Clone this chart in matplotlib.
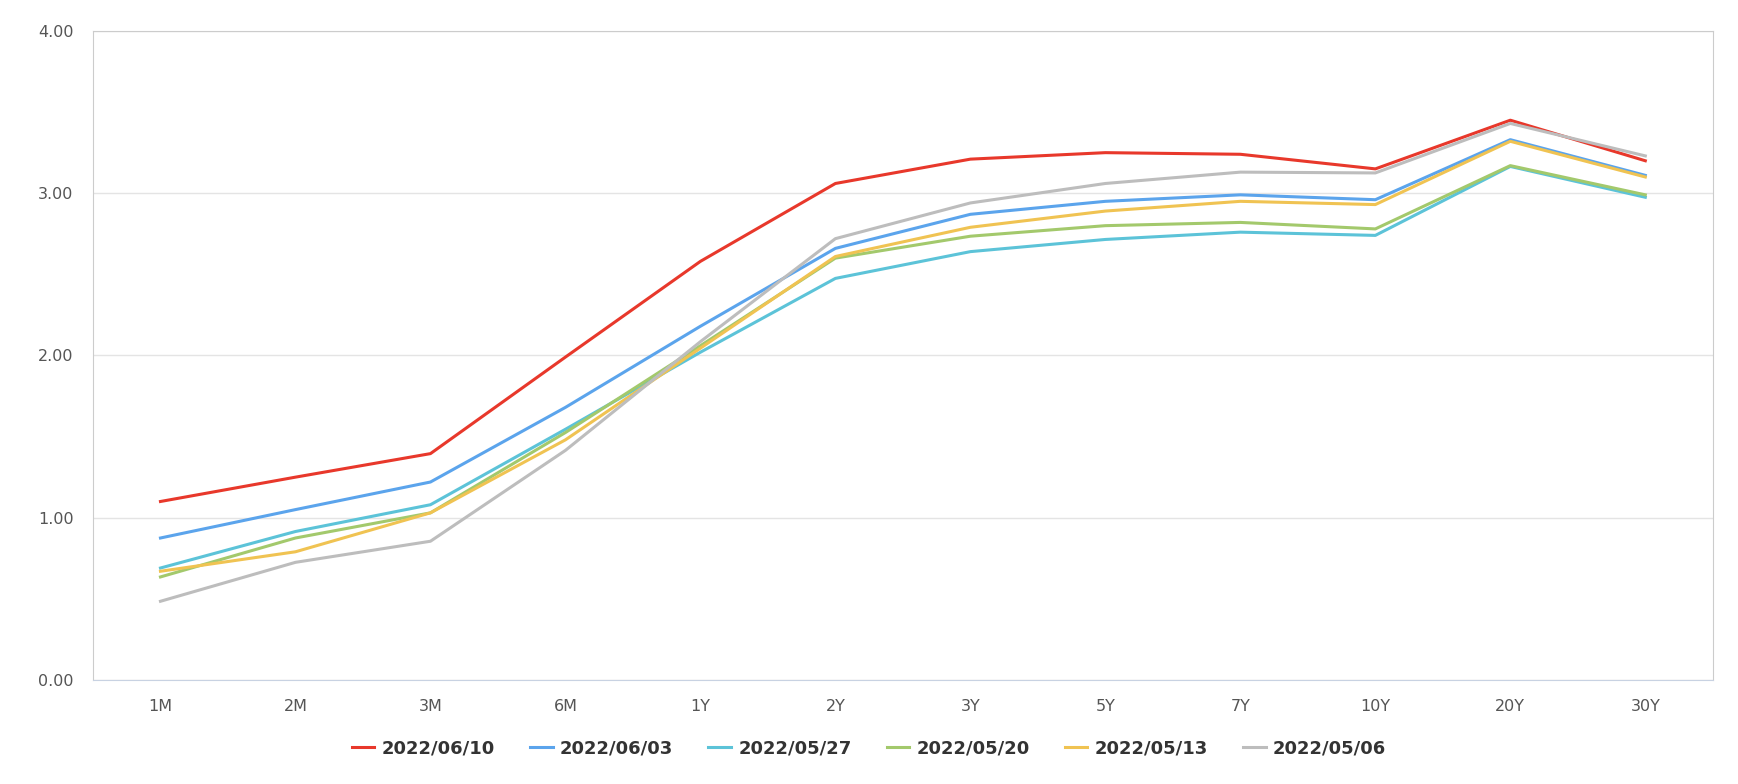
import matplotlib.pyplot as plt
import numpy as np

tenors = ["1M", "2M", "3M", "6M", "1Y", "2Y", "3Y", "5Y", "7Y", "10Y", "20Y", "30Y"]

d20220610 = [1.10, 1.25, 1.395, 1.99, 2.58, 3.06, 3.21, 3.25, 3.24, 3.15, 3.45, 3.20]
d20220603 = [0.875, 1.05, 1.22, 1.68, 2.18, 2.66, 2.87, 2.95, 2.99, 2.96, 3.33, 3.11]
d20220527 = [0.69, 0.915, 1.08, 1.545, 2.02, 2.475, 2.64, 2.715, 2.76, 2.74, 3.165, 2.975]
d20220520 = [0.635, 0.875, 1.03, 1.525, 2.06, 2.60, 2.735, 2.80, 2.82, 2.78, 3.17, 2.99]
d20220513 = [0.67, 0.79, 1.03, 1.48, 2.045, 2.61, 2.79, 2.89, 2.95, 2.93, 3.32, 3.10]
d20220506 = [0.485, 0.725, 0.855, 1.415, 2.085, 2.72, 2.94, 3.06, 3.13, 3.125, 3.43, 3.23]

labels = ["2022/06/10", "2022/06/03", "2022/05/27", "2022/05/20", "2022/05/13", "2022/05/06"]
colors = ["#e8382b", "#5ba4ec", "#5cc3d8", "#a3c96c", "#f0c352", "#bdbdbd"]
series = [d20220610, d20220603, d20220527, d20220520, d20220513, d20220506]

fig = plt.figure(figsize=(17.38, 7.84), dpi=100)
ax = fig.add_axes([0.0535, 0.1327, 0.932, 0.8278])

x = np.arange(len(tenors))
for values, label, color in zip(series, labels, colors):
    ax.plot(x, values, color=color, linewidth=2.2, label=label)

ax.set_xlim(-0.5, len(tenors) - 0.5)
ax.set_ylim(0, 4)
ax.set_yticks(np.arange(0, 4.01, 1.0))
ax.set_yticklabels([f"{v:.2f}" for v in np.arange(0, 4.01, 1.0)])
ax.set_xticks(x, tenors)
ax.grid(True, axis="y", color="#e4e4e4", linewidth=1.0)
ax.set_axisbelow(True)
ax.tick_params(axis="both", length=0, labelsize=11.5, labelcolor="#555555")
ax.tick_params(axis="y", pad=14)
ax.tick_params(axis="x", pad=14)
for side in ("left", "top", "right"):
    ax.spines[side].set_color("#cccccc")
ax.spines["bottom"].set_color("#c8d2e2")

handles, names = ax.get_legend_handles_labels()
fig.legend(
    handles,
    names,
    loc="center",
    bbox_to_anchor=(0.5, 0.045),
    ncol=6,
    frameon=False,
    handlelength=1.25,
    handletextpad=0.4,
    columnspacing=1.95,
    prop={"weight": "bold", "size": 13},
    labelcolor="#333333",
)

fig.savefig("out.png", dpi=100)
